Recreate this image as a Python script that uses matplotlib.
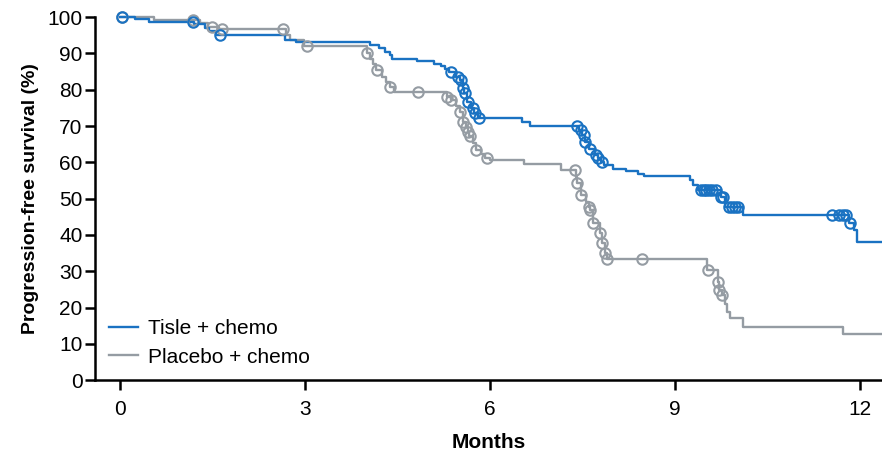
import numpy as np
import matplotlib
matplotlib.use("Agg")
import matplotlib.pyplot as plt

plt.rcParams['font.family'] = ['Liberation Sans Narrow', 'Liberation Sans', 'DejaVu Sans']

# Kaplan-Meier step points (months, PFS %)
tisle_t = [0, 0.25, 0.47, 1.2, 1.38, 1.45, 1.55, 2.68, 2.85, 4.05, 4.2, 4.3, 4.38, 4.42,
           4.82, 5.1, 5.2, 5.28, 5.33, 5.45, 5.52, 5.56, 5.58, 5.63, 5.7, 5.74, 5.8,
           6.52, 6.65, 7.45, 7.49, 7.55, 7.6, 7.7, 7.75, 7.8, 7.85, 8.0, 8.2, 8.4, 8.5,
           9.25, 9.3, 9.38, 9.75, 9.82, 10.1, 11.82, 11.9, 11.95]
tisle_s = [100, 99.4, 98.7, 98.0, 97.0, 96.1, 95.2, 93.8, 93.1, 92.3, 91.4, 90.5, 89.5, 88.6,
           88.0, 87.2, 86.5, 85.8, 84.9, 83.6, 82.6, 80.5, 79.0, 76.7, 74.9, 73.5, 72.2,
           71.2, 70.1, 68.9, 67.5, 65.5, 63.6, 62.0, 61.1, 60.1, 59.4, 58.3, 57.7, 56.9, 56.3,
           55.1, 53.7, 52.3, 50.5, 47.6, 45.6, 43.2, 41.3, 38.0]
tisle_cens = [0.03, 1.18, 1.62, 5.37, 5.48, 5.53, 5.56, 5.6, 5.65, 5.72, 5.76, 5.82,
              7.41, 7.48, 7.52, 7.55, 7.63, 7.72, 7.76, 7.82,
              9.42, 9.47, 9.5, 9.55, 9.6, 9.66, 9.75, 9.78, 9.88, 9.92, 9.97, 10.02,
              11.55, 11.67, 11.72, 11.77, 11.84]

placebo_t = [0, 0.55, 1.3, 1.42, 1.6, 2.7, 2.75, 2.98, 4.0, 4.05, 4.1, 4.15, 4.25, 4.32,
             4.38, 4.45, 5.3, 5.37, 5.45, 5.52, 5.57, 5.62, 5.64, 5.66, 5.72, 5.78, 5.85,
             5.92, 6.0, 6.55, 7.15, 7.4, 7.42, 7.48, 7.56, 7.6, 7.63, 7.68, 7.78, 7.82,
             7.86, 7.9, 9.52, 9.7, 9.72, 9.76, 9.82, 9.85, 9.89, 10.1, 11.72]
placebo_s = [100, 99.2, 98.3, 97.4, 96.6, 95.0, 93.8, 92.1, 90.0, 88.5, 87.0, 85.4, 83.5, 82.0,
             80.8, 79.4, 78.0, 77.1, 75.5, 73.9, 71.2, 69.8, 68.5, 67.2, 65.3, 63.4, 62.2,
             61.1, 60.6, 59.6, 58.0, 56.0, 54.3, 51.0, 49.0, 47.7, 46.8, 43.3, 40.5, 37.8,
             35.1, 33.5, 30.3, 27.1, 24.8, 23.4, 21.1, 18.8, 17.0, 14.7, 12.8]
placebo_cens = [0.03, 1.18, 1.5, 1.65, 2.64, 3.03, 4.0, 4.17, 4.38, 4.83, 5.3, 5.37, 5.52,
                5.57, 5.62, 5.65, 5.67, 5.78, 5.95, 7.38, 7.42, 7.48, 7.6, 7.63, 7.68,
                7.78, 7.82, 7.86, 7.9, 8.46, 9.54, 9.7, 9.72, 9.76]

x_end = 12.36
blue = '#1a72c2'
grey = '#959ca3'

fig = plt.figure(figsize=(8.82, 4.51), dpi=100)
ax = fig.add_axes([0.1077, 0.157, 0.8923, 0.805])


def draw_km(t, s, cens, color, label):
    t = np.asarray(t)
    s = np.asarray(s)
    tt = np.append(t, x_end)
    ss = np.append(s, s[-1])
    ax.step(tt, ss, where='post', color=color, lw=1.7, label=label, clip_on=False, zorder=3)
    c = np.asarray(cens)
    cy = s[np.searchsorted(t, c, side='right') - 1]
    ax.plot(c, cy, 'o', ms=7.5, mfc='none', mec=color, mew=1.5, clip_on=False, zorder=4)


draw_km(placebo_t, placebo_s, placebo_cens, grey, 'Placebo + chemo')
draw_km(tisle_t, tisle_s, tisle_cens, blue, 'Tisle + chemo')

ax.set_xlim(-0.405, x_end)
ax.set_ylim(0, 100)
ax.set_xticks([0, 3, 6, 9, 12])
ax.set_yticks(range(0, 101, 10))
ax.spines['top'].set_visible(False)
ax.spines['right'].set_visible(False)
for sp in ['left', 'bottom']:
    ax.spines[sp].set_linewidth(1.8)
ax.tick_params(direction='out', length=7, width=1.8, labelsize=15)
ax.tick_params(axis='y', pad=2)
ax.tick_params(axis='x', pad=7)

ax.set_xlabel('Months', fontsize=15, fontweight='bold', labelpad=10)
ax.set_ylabel('Progression-free survival (%)', fontsize=14, fontweight='bold', labelpad=6)

handles, labels = ax.get_legend_handles_labels()
ax.legend(handles[::-1], labels[::-1], loc='lower left', bbox_to_anchor=(0.0, 0.0),
          frameon=False, fontsize=15, handlelength=1.4, handletextpad=0.5,
          labelspacing=0.45, borderaxespad=0.25)

fig.savefig('out.png', dpi=100)
